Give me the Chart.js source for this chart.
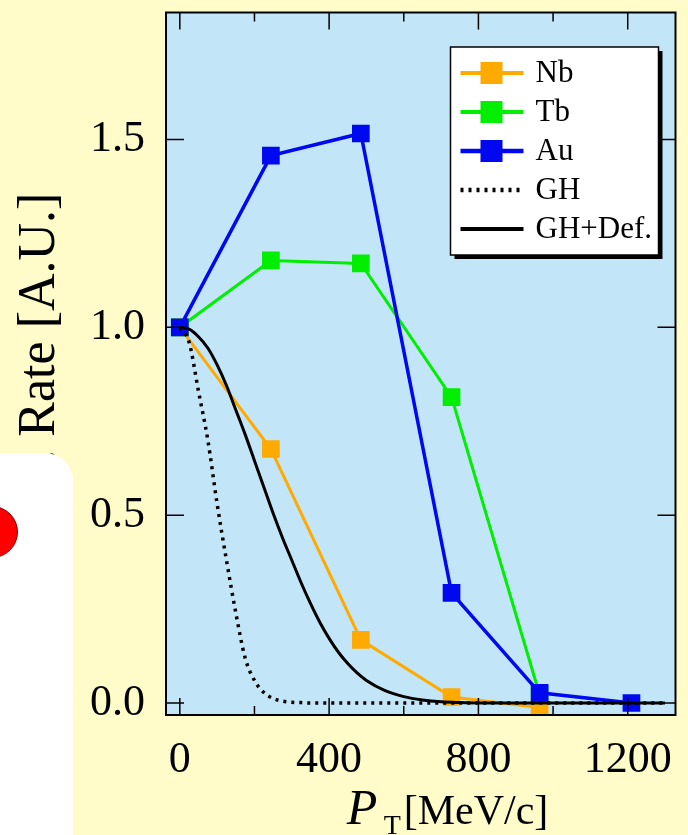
<!DOCTYPE html>
<html>
<head>
<meta charset="utf-8">
<script src="https://cdn.jsdelivr.net/npm/chart.js@4"></script>
<style>
  html, body { margin: 0; padding: 0; background: #fffcca; }
  #wrap { position: relative; width: 688px; height: 835px; overflow: hidden; }
  #ratePlot { position: absolute; left: 0; top: 0; }
  .note-card { position: absolute; left: 0; top: 453px; width: 73px; height: 382px; background: #ffffff; border-top-right-radius: 28px; }
  .note-dot { position: absolute; left: -34px; top: 506px; width: 50px; height: 50px; border-radius: 50%; background: #ff0000; border: 1.5px solid #7a0000; }
</style>
</head>
<body>
<div id="wrap">
  <canvas id="ratePlot" width="688" height="835"></canvas>
  <div class="note-card"></div>
  <div class="note-dot"></div>
</div>
<script>
// measured points (P_T in MeV/c)
const pT = [0, 244, 485, 728, 964, 1210];
const nbRate = [1.0, 0.676, 0.168, 0.016, -0.012];
const tbRate = [1.0, 1.178, 1.170, 0.814, 0.022];
const auRate = [1.0, 1.457, 1.516, 0.293, 0.027, 0.0];

// calculated curves
const curveP = [0, 25, 50, 75, 100, 125, 150, 175, 200, 225, 250, 275, 300, 325, 350, 375, 400, 425, 450, 475, 500, 550, 600, 650, 700, 750, 800, 1000, 1300];
const ghRate = [1.0, 0.96, 0.83, 0.70, 0.53, 0.38, 0.24, 0.12, 0.06, 0.028, 0.012, 0.005, 0.002, 0.001, 0, 0, 0, 0, 0, 0, 0, 0, 0, 0, 0, 0, 0, 0, 0];
const ghDefRate = [1.0, 0.995, 0.975, 0.945, 0.90, 0.845, 0.78, 0.715, 0.645, 0.575, 0.505, 0.44, 0.38, 0.32, 0.265, 0.215, 0.172, 0.135, 0.105, 0.08, 0.06, 0.033, 0.017, 0.008, 0.003, 0.001, 0, 0, 0];

const xMajorTicks = [0, 400, 800, 1200];
const xMinorTicks = [200, 600, 1000];
const yTicks = [0, 0.5, 1.0, 1.5];

const serif = 'Liberation Serif';

const toPoints = (xs, ys) => ys.map((y, i) => ({ x: xs[i], y: y }));

const plotFrame = {
    id: 'plotFrame',
    beforeDraw(chart) {
        const { ctx, chartArea: a } = chart;
        ctx.save();
        ctx.fillStyle = '#c2e6f8';
        ctx.fillRect(a.left, a.top, a.right - a.left, a.bottom - a.top);
        ctx.restore();
    },
    afterDatasetsDraw(chart) {
        const { ctx, chartArea: a, scales: { x, y } } = chart;
        ctx.save();
        ctx.strokeStyle = '#000';
        ctx.lineWidth = 2;
        ctx.strokeRect(a.left, a.top, a.right - a.left, a.bottom - a.top);
        ctx.lineWidth = 1.5;
        ctx.beginPath();
        const xTick = (vals, len) => vals.forEach(v => {
            const px = x.getPixelForValue(v);
            ctx.moveTo(px, a.bottom); ctx.lineTo(px, a.bottom - len);
            ctx.moveTo(px, a.top); ctx.lineTo(px, a.top + len);
        });
        xTick(xMajorTicks, 17);
        xTick(xMinorTicks, 9);
        yTicks.forEach(v => {
            const py = y.getPixelForValue(v);
            ctx.moveTo(a.left, py); ctx.lineTo(a.left + 18, py);
            ctx.moveTo(a.right, py); ctx.lineTo(a.right - 18, py);
        });
        ctx.stroke();
        ctx.restore();
    },
    afterDraw(chart) {
        const { ctx, chartArea: a } = chart;
        ctx.save();

        // legend box with drop shadow
        const bx = a.right - 225, by = 47, bw = 208, bh = 208;
        ctx.fillStyle = '#000';
        ctx.fillRect(bx + 4, by + 4, bw, bh);
        ctx.fillStyle = '#fff';
        ctx.fillRect(bx, by, bw, bh);
        ctx.strokeStyle = '#000';
        ctx.lineWidth = 1.5;
        ctx.strokeRect(bx, by, bw, bh);

        ctx.font = '31px "' + serif + '"';
        ctx.textBaseline = 'middle';
        chart.data.datasets.forEach((ds, i) => {
            const ry = by + 26 + i * 39;
            ctx.strokeStyle = ds.borderColor;
            ctx.lineWidth = ds.borderWidth + 1;
            ctx.setLineDash(ds.borderDash || []);
            ctx.beginPath();
            ctx.moveTo(bx + 10, ry);
            ctx.lineTo(bx + 73, ry);
            ctx.stroke();
            ctx.setLineDash([]);
            if (ds.pointRadius > 0) {
                ctx.fillStyle = ds.backgroundColor;
                ctx.fillRect(bx + 30, ry - 11, 22, 22);
            }
            ctx.fillStyle = '#000';
            ctx.fillText(ds.label, bx + 85, ry + 1);
        });

        // x axis title with subscript
        const tx = (a.left + a.right) / 2 - 74;
        ctx.fillStyle = '#000';
        ctx.textBaseline = 'alphabetic';
        ctx.font = 'italic 50px "' + serif + '"';
        ctx.fillText('P', tx, 824);
        ctx.font = '28px "' + serif + '"';
        ctx.fillText('T', tx + 37, 834);
        ctx.font = '42px "' + serif + '"';
        ctx.fillText('[MeV/c]', tx + 57, 824);
        ctx.restore();
    }
};

document.addEventListener('DOMContentLoaded', () => {
    const ctx = document.getElementById('ratePlot').getContext('2d');

    const ratePlot = new Chart(ctx, {
        type: 'line',
        data: {
            datasets: [{
                label: 'Nb',
                data: toPoints(pT, nbRate),
                borderColor: '#ffaa00',
                backgroundColor: '#ffaa00',
                borderWidth: 3,
                pointStyle: 'rect',
                pointRadius: 12.5,
                pointBorderWidth: 0,
                order: 4
            }, {
                label: 'Tb',
                data: toPoints(pT, tbRate),
                borderColor: '#00ee00',
                backgroundColor: '#00ee00',
                borderWidth: 3,
                pointStyle: 'rect',
                pointRadius: 12.5,
                pointBorderWidth: 0,
                order: 3
            }, {
                label: 'Au',
                data: toPoints(pT, auRate),
                borderColor: '#0008f0',
                backgroundColor: '#0008f0',
                borderWidth: 3.5,
                pointStyle: 'rect',
                pointRadius: 12.5,
                pointBorderWidth: 0,
                order: 2
            }, {
                label: 'GH',
                data: toPoints(curveP, ghRate),
                borderColor: '#000',
                borderWidth: 3.5,
                borderDash: [3, 5],
                pointRadius: 0,
                cubicInterpolationMode: 'monotone',
                order: 1
            }, {
                label: 'GH+Def.',
                data: toPoints(curveP, ghDefRate),
                borderColor: '#000',
                borderWidth: 3,
                pointRadius: 0,
                cubicInterpolationMode: 'monotone',
                order: 0
            }]
        },
        options: {
            responsive: false,
            animation: false,
            layout: { padding: { left: 0, top: 12, right: 1, bottom: 0 } },
            plugins: {
                legend: { display: false },
                tooltip: { enabled: false }
            },
            scales: {
                x: {
                    type: 'linear',
                    min: -37,
                    max: 1328,
                    grid: { display: false },
                    border: { display: false },
                    afterBuildTicks: s => { s.ticks = xMajorTicks.map(v => ({ value: v })); },
                    afterFit: s => { s.height = 120; s.paddingLeft = 0; s.paddingRight = 0; },
                    ticks: {
                        font: { family: serif, size: 44 },
                        color: '#000',
                        padding: 11,
                        maxRotation: 0,
                        autoSkip: false,
                        callback: v => String(v)
                    }
                },
                y: {
                    type: 'linear',
                    min: -0.032,
                    max: 1.838,
                    grid: { display: false },
                    border: { display: false },
                    afterBuildTicks: s => { s.ticks = yTicks.map(v => ({ value: v })); },
                    afterFit: s => { s.width = 166; s.paddingTop = 0; s.paddingBottom = 0; },
                    ticks: {
                        font: { family: serif, size: 44 },
                        color: '#000',
                        padding: 13,
                        callback: v => v.toFixed(1)
                    },
                    title: {
                        display: true,
                        text: 'Rel. Rate [A.U.]',
                        font: { family: serif, size: 52 },
                        color: '#000',
                        padding: { top: 9, bottom: 0 }
                    }
                }
            }
        },
        plugins: [plotFrame]
    });
});
</script>
</body>
</html>
